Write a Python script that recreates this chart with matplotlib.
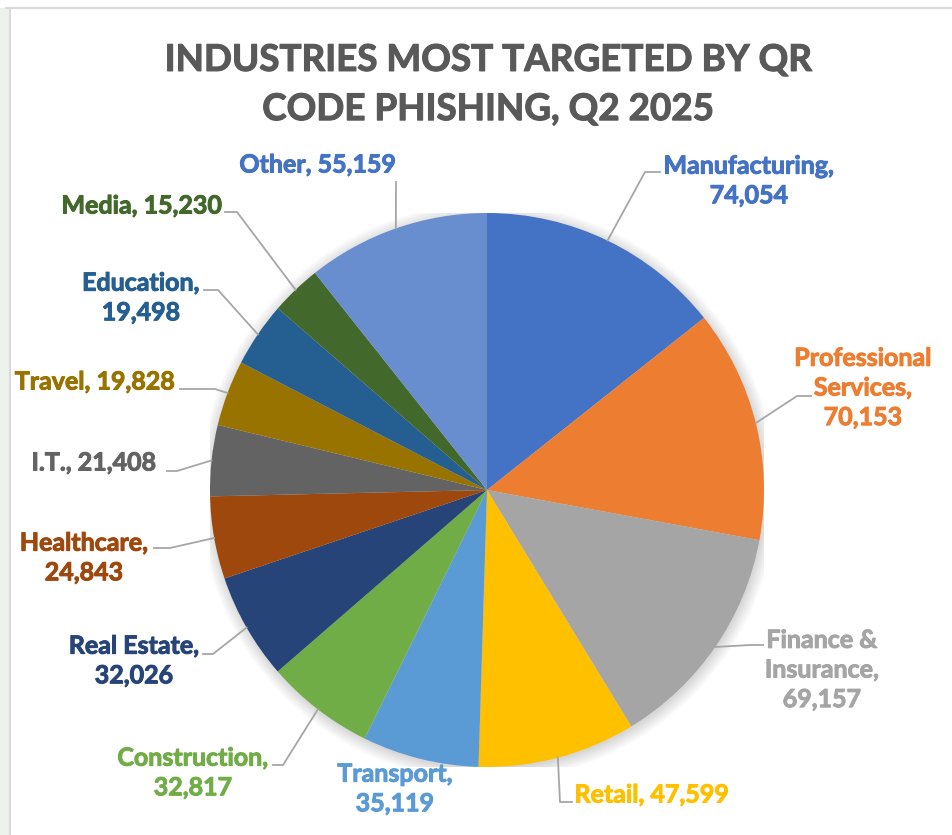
import matplotlib.pyplot as plt
import matplotlib.patheffects as pe
from matplotlib.patches import Rectangle, Circle
import numpy as np

# data
industries = ['Manufacturing', 'Professional\nServices', 'Finance &\nInsurance', 'Retail',
              'Transport', 'Construction', 'Real Estate', 'Healthcare', 'I.T.',
              'Travel', 'Education', 'Media', 'Other']
attacks = [74054, 70153, 69157, 47599, 35119, 32817, 32026, 24843, 21408,
           19828, 19498, 15230, 55159]
colors = ['#4472C4', '#ED7D31', '#A5A5A5', '#FFC000', '#5B9BD5', '#70AD47',
          '#264478', '#9E480E', '#636363', '#997300', '#255E91', '#43682B', '#698ED0']
text_colors = colors[:-1] + ['#4472C4']
# label line break: True = value on its own line
value_newline = [True, True, True, False, True, True, True, True, False,
                 False, True, False, False]

W, H = 952, 835
CX, CY, R = 487, 490, 277  # pie centre / radius in pixels

# label centres (px) and leader line ends / elbows (px)
label_pos = [(749, 181), (863, 388), (822, 670), (652, 795), (395, 789),
             (193, 773), (134, 661), (84, 558), (94, 463), (95, 382),
             (141, 298), (142, 206), (318, 165)]
leader = [((660, 172), (645, 172)), ((811, 396), (797, 396)), ((763, 645), (750, 645)),
          ((572, 802), (560, 802)), None, ((273, 765), (283, 765)),
          ((203, 654), (213, 654)), ((154, 548), (170, 548)), ((167, 471), (177, 471)),
          ((180, 389), (215, 389)), ((204, 290), (218, 290)), ((225, 212), (237, 212)),
          ((396, 182), (396, 182))]

plt.rcParams['font.family'] = ['Lato', 'DejaVu Sans']

fig = plt.figure(figsize=(W / 100, H / 100), dpi=100)
fig.patch.set_facecolor('white')

# frame like the source slide
fig.patches.append(Rectangle((0, 0), 10 / W, (H - 8) / H, transform=fig.transFigure,
                             facecolor='#eef2ec', edgecolor='none', zorder=0))
fig.add_artist(plt.Line2D([10 / W, 10 / W], [0, (H - 8) / H], color='#d9d9d9', lw=1.5))
fig.add_artist(plt.Line2D([6 / W, 1], [(H - 8) / H, (H - 8) / H], color='#d9d9d9', lw=1.5))

ax = fig.add_axes([(CX - R) / W, (H - CY - R) / H, 2 * R / W, 2 * R / H])
ax.axis('off')


def to_data(p):
    return ((p[0] - CX) / R, (CY - p[1]) / R)


# soft shadow
for i in range(8):
    ax.add_patch(Circle((0.004, -0.008), 1 + 0.006 * i, color='black',
                        alpha=0.018, lw=0, zorder=0))

wedges, _ = ax.pie(attacks, colors=colors, startangle=90, counterclock=False,
                   radius=1, wedgeprops=dict(linewidth=0))
ax.set_xlim(-1, 1)
ax.set_ylim(-1, 1)
ax.set_aspect('equal')

for w, name, val, col, nl, pos, ld in zip(wedges, industries, attacks, text_colors,
                                          value_newline, label_pos, leader):
    sep = ',\n' if nl else ', '
    ax.text(*to_data(pos), f'{name}{sep}{val:,}', color=col, fontsize=18,
            fontweight='bold', ha='center', va='center', linespacing=1.35,
            clip_on=False, path_effects=[pe.withStroke(linewidth=0.7, foreground=col)])
    if ld is None:
        continue
    mid = np.deg2rad((w.theta1 + w.theta2) / 2)
    edge = (np.cos(mid), np.sin(mid))
    end, elbow = to_data(ld[0]), to_data(ld[1])
    ax.plot([edge[0], elbow[0], end[0]], [edge[1], elbow[1], end[1]],
            color='#a6a6a6', lw=1.3, clip_on=False, zorder=3)

fig.text(488 / W, 1 - 85 / H, 'INDUSTRIES MOST TARGETED BY QR\nCODE PHISHING, Q2 2025',
         ha='center', va='center', fontsize=26.5, fontweight='bold', color='#595959',
         linespacing=1.6, path_effects=[pe.withStroke(linewidth=0.8, foreground='#595959')])

fig.savefig('out.png', dpi=100)
